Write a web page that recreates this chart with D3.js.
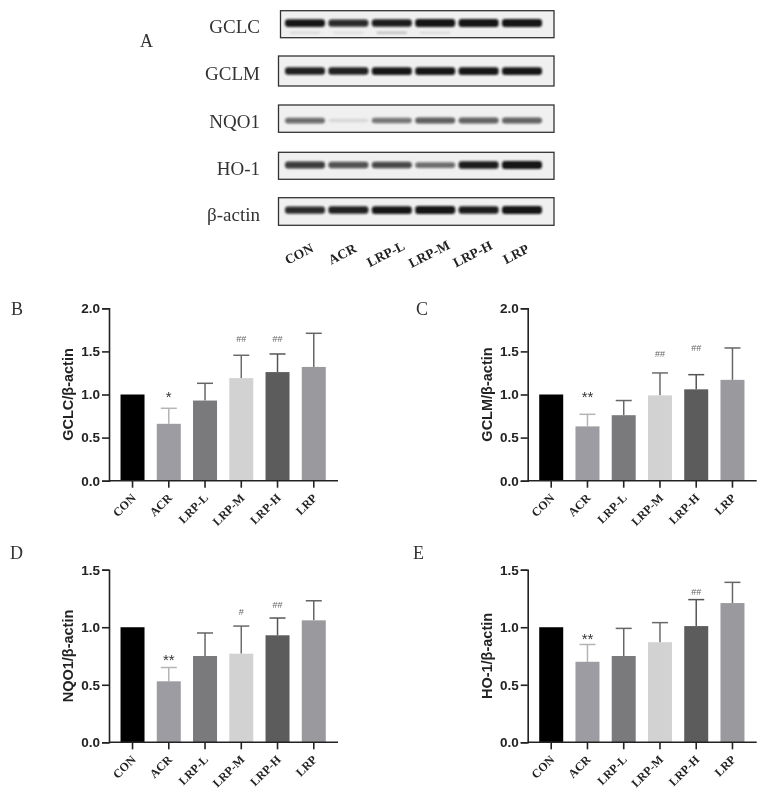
<!DOCTYPE html>
<html>
<head>
<meta charset="utf-8">
<script src="https://cdn.jsdelivr.net/npm/d3@7"></script>
<style>
  html, body { margin: 0; padding: 0; background: #fff; }
  svg { display: block; }
</style>
</head>
<body>
<svg id="chart" width="770" height="799"></svg>
<script>
// groups, same order everywhere
var groups = ["CON", "ACR", "LRP-L", "LRP-M", "LRP-H", "LRP"];

// bar means
var gclcMeans = [1.0, 0.66, 0.93, 1.19, 1.26, 1.32];
var gclmMeans = [1.0, 0.63, 0.76, 0.99, 1.06, 1.17];
var nqo1Means = [1.0, 0.53, 0.75, 0.77, 0.93, 1.06];
var ho1Means = [1.0, 0.70, 0.75, 0.87, 1.01, 1.21];

// top of each error bar (null = no error bar)
var gclcTops = [null, 0.84, 1.13, 1.455, 1.47, 1.71];
var gclmTops = [null, 0.77, 0.93, 1.25, 1.23, 1.54];
var nqo1Tops = [null, 0.65, 0.95, 1.01, 1.08, 1.23];
var ho1Tops = [null, 0.85, 0.99, 1.04, 1.24, 1.39];

// significance marks and the value they sit at
var gclcMarks = ["", "*", "", "##", "##", ""];
var gclcMarkAt = [0, 1.0, 0, 1.64, 1.64, 0];
var gclmMarks = ["", "**", "", "##", "##", ""];
var gclmMarkAt = [0, 1.0, 0, 1.47, 1.535, 0];
var nqo1Marks = ["", "**", "", "#", "##", ""];
var nqo1MarkAt = [0, 0.73, 0, 1.13, 1.19, 0];
var ho1Marks = ["", "**", "", "", "##", ""];
var ho1MarkAt = [0, 0.915, 0, 0, 1.31, 0];

var ticksTall = [0, 0.5, 1.0, 1.5, 2.0];
var ticksShort = [0, 0.5, 1.0, 1.5];

// western blot band strength, 0 to 1
var blotNames = ["GCLC", "GCLM", "NQO1", "HO-1", "β-actin"];
var gclcBands = [0.95, 0.85, 0.92, 0.97, 0.97, 0.97];
var gclmBands = [0.9, 0.9, 0.95, 0.95, 0.95, 0.95];
var nqo1Bands = [0.55, 0.06, 0.5, 0.62, 0.6, 0.6];
var ho1Bands = [0.78, 0.68, 0.72, 0.55, 0.92, 0.97];
var actinBands = [0.85, 0.9, 0.95, 0.97, 0.92, 0.97];
var gclcFaint = [0.1, 0.08, 0.22, 0.1, 0, 0];

var barColors = ["#050304", "#9c9ca2", "#7a7a7c", "#d2d2d2", "#5c5c5c", "#9a9a9e"];
var errColors = ["#000", "#b4b4b6", "#666", "#6a6a6a", "#555", "#666"];
var serif = "'Liberation Serif', serif";
var sans = "'Liberation Sans', sans-serif";

var svg = d3.select("#chart");

// slight blur, the reference is a soft scan
var defs = svg.append("defs");
defs.append("filter").attr("id", "soft")
    .append("feGaussianBlur").attr("stdDeviation", 0.4);
defs.append("filter").attr("id", "bandBlur")
    .attr("x", "-20%").attr("y", "-80%").attr("width", "140%").attr("height", "260%")
    .append("feGaussianBlur").attr("stdDeviation", 1.0);

var root = svg.append("g").attr("filter", "url(#soft)");

// ---- panel A, the blots ----
var lanes = d3.scalePoint().domain(groups).range([305, 522]);
var bandHeight = d3.scaleLinear().domain([0, 1]).range([3, 8]);
var bandDark = d3.scaleLinear().domain([0, 1]).range([0.05, 1]);

var blots = [
    { values: gclcBands, left: 280.5, top: 10.7, bottom: 37.7, mid: 23 },
    { values: gclmBands, left: 278.5, top: 56, bottom: 86, mid: 71 },
    { values: nqo1Bands, left: 278.5, top: 105, bottom: 132.3, mid: 120.5 },
    { values: ho1Bands, left: 278.5, top: 152.3, bottom: 179.3, mid: 165 },
    { values: actinBands, left: 278.5, top: 197.7, bottom: 225.3, mid: 210 }
];

blots.forEach(function (b, i) {
    var g = root.append("g");
    g.append("rect")
        .attr("x", b.left).attr("y", b.top)
        .attr("width", 554 - b.left).attr("height", b.bottom - b.top)
        .attr("fill", "#f0f0f0").attr("stroke", "#333").attr("stroke-width", 1.3);
    g.selectAll("rect.band").data(b.values).enter().append("rect")
        .attr("class", "band")
        .attr("x", function (d, j) { return lanes(groups[j]) - 20; })
        .attr("y", function (d) { return b.mid - bandHeight(d) / 2; })
        .attr("width", 40)
        .attr("height", function (d) { return bandHeight(d); })
        .attr("rx", 3)
        .attr("fill", "#0c0c0c")
        .attr("opacity", function (d) { return bandDark(d); })
        .attr("filter", "url(#bandBlur)");
    root.append("text")
        .attr("x", 260).attr("y", (b.top + b.bottom) / 2 + 9)
        .attr("text-anchor", "end")
        .attr("font-family", serif).attr("font-size", 19).attr("fill", "#333")
        .text(blotNames[i]);
});

// faint second band under GCLC
root.selectAll("rect.faint").data(gclcFaint).enter().append("rect")
    .attr("class", "faint")
    .attr("x", function (d, j) { return lanes(groups[j]) - 15; })
    .attr("y", 31.5)
    .attr("width", 30)
    .attr("height", 2.5)
    .attr("fill", "#222")
    .attr("opacity", function (d) { return d; })
    .attr("filter", "url(#bandBlur)");

root.selectAll("text.lane").data(groups).enter().append("text")
    .attr("class", "lane")
    .attr("text-anchor", "middle")
    .attr("transform", function (d) {
        return "translate(" + (lanes(d) - 4) + ",258) rotate(-27)";
    })
    .attr("font-family", serif).attr("font-size", 13.5).attr("font-weight", "bold").attr("fill", "#222")
    .text(function (d) { return d; });

// ---- panels B to E, the bar charts ----
function drawPanel(opt) {
    var x = d3.scaleBand().domain(groups)
        .range([opt.axisX + 5.4, opt.axisX + 222.9])
        .paddingInner(0.338).paddingOuter(0.169);
    var y = d3.scaleLinear().domain([0, opt.max]).range([opt.base, opt.top]);
    var g = root.append("g");

    // error bars go under the bars
    groups.forEach(function (name, i) {
        if (opt.tops[i] === null) return;
        var cx = x(name) + x.bandwidth() / 2;
        g.append("line")
            .attr("x1", cx).attr("x2", cx)
            .attr("y1", y(opt.means[i])).attr("y2", y(opt.tops[i]))
            .attr("stroke", errColors[i]).attr("stroke-width", 1.5);
        g.append("line")
            .attr("x1", cx - 8).attr("x2", cx + 8)
            .attr("y1", y(opt.tops[i])).attr("y2", y(opt.tops[i]))
            .attr("stroke", errColors[i]).attr("stroke-width", 1.5);
    });

    g.selectAll("rect.bar").data(opt.means).enter().append("rect")
        .attr("class", "bar")
        .attr("x", function (d, i) { return x(groups[i]); })
        .attr("y", function (d) { return y(d); })
        .attr("width", x.bandwidth())
        .attr("height", function (d) { return y(0) - y(d); })
        .attr("fill", function (d, i) { return barColors[i]; });

    g.selectAll("text.mark").data(opt.marks).enter().append("text")
        .attr("class", "mark")
        .attr("x", function (d, i) { return x(groups[i]) + x.bandwidth() / 2; })
        .attr("y", function (d, i) { return y(opt.markAt[i]) + (d.charAt(0) === "*" ? 7 : 3); })
        .attr("text-anchor", "middle")
        .attr("font-family", sans)
        .attr("font-size", function (d) { return d.charAt(0) === "*" ? 15 : 9; })
        .attr("fill", function (d) { return d.charAt(0) === "*" ? "#333" : "#666"; })
        .text(function (d) { return d; });

    var yAxis = g.append("g")
        .attr("transform", "translate(" + opt.axisX + ",0)")
        .call(d3.axisLeft(y).tickValues(opt.ticks).tickSize(7).tickPadding(2).tickFormat(d3.format(".1f")));
    yAxis.selectAll("path, line").attr("stroke", "#222").attr("stroke-width", 1.6);
    yAxis.selectAll("text")
        .attr("font-family", sans).attr("font-size", 13.5).attr("font-weight", "bold").attr("fill", "#222");

    var xAxis = g.append("g")
        .attr("transform", "translate(0," + opt.base + ")")
        .call(d3.axisBottom(x).tickSize(7).tickSizeOuter(0).tickFormat(""));
    xAxis.select("path").remove();
    xAxis.selectAll("line").attr("stroke", "#222").attr("stroke-width", 1.6);

    g.append("line")
        .attr("x1", opt.axisX).attr("x2", opt.axisX + 229)
        .attr("y1", opt.base).attr("y2", opt.base)
        .attr("stroke", "#222").attr("stroke-width", 1.6);

    g.selectAll("text.cat").data(groups).enter().append("text")
        .attr("class", "cat")
        .attr("text-anchor", "end")
        .attr("transform", function (d) {
            return "translate(" + (x(d) + x.bandwidth() / 2 + 4) + "," + (opt.base + 18) + ") rotate(-45)";
        })
        .attr("font-family", serif).attr("font-size", 12).attr("font-weight", "bold").attr("fill", "#222")
        .text(function (d) { return d; });

    g.append("text")
        .attr("text-anchor", "middle")
        .attr("transform", "translate(" + (opt.axisX - 36) + "," + ((opt.base + opt.top) / 2) + ") rotate(-90)")
        .attr("font-family", sans).attr("font-size", 14.5).attr("font-weight", "bold").attr("fill", "#222")
        .text(opt.label);

    root.append("text")
        .attr("x", opt.letterX).attr("y", opt.letterY)
        .attr("font-family", serif).attr("font-size", 18).attr("fill", "#333")
        .text(opt.letter);
}

drawPanel({ means: gclcMeans, tops: gclcTops, marks: gclcMarks, markAt: gclcMarkAt, ticks: ticksTall, max: 2,
    axisX: 109, top: 308.3, base: 480.7, label: "GCLC/β-actin", letter: "B", letterX: 11, letterY: 315 });
drawPanel({ means: gclmMeans, tops: gclmTops, marks: gclmMarks, markAt: gclmMarkAt, ticks: ticksTall, max: 2,
    axisX: 527.7, top: 308.3, base: 480.7, label: "GCLM/β-actin", letter: "C", letterX: 416, letterY: 315 });
drawPanel({ means: nqo1Means, tops: nqo1Tops, marks: nqo1Marks, markAt: nqo1MarkAt, ticks: ticksShort, max: 1.5,
    axisX: 109, top: 569.7, base: 742.3, label: "NQO1/β-actin", letter: "D", letterX: 10, letterY: 559 });
drawPanel({ means: ho1Means, tops: ho1Tops, marks: ho1Marks, markAt: ho1MarkAt, ticks: ticksShort, max: 1.5,
    axisX: 527.7, top: 569.7, base: 742.3, label: "HO-1/β-actin", letter: "E", letterX: 413, letterY: 559 });

root.append("text")
    .attr("x", 140).attr("y", 47)
    .attr("font-family", serif).attr("font-size", 18).attr("fill", "#333")
    .text("A");
</script>
</body>
</html>
